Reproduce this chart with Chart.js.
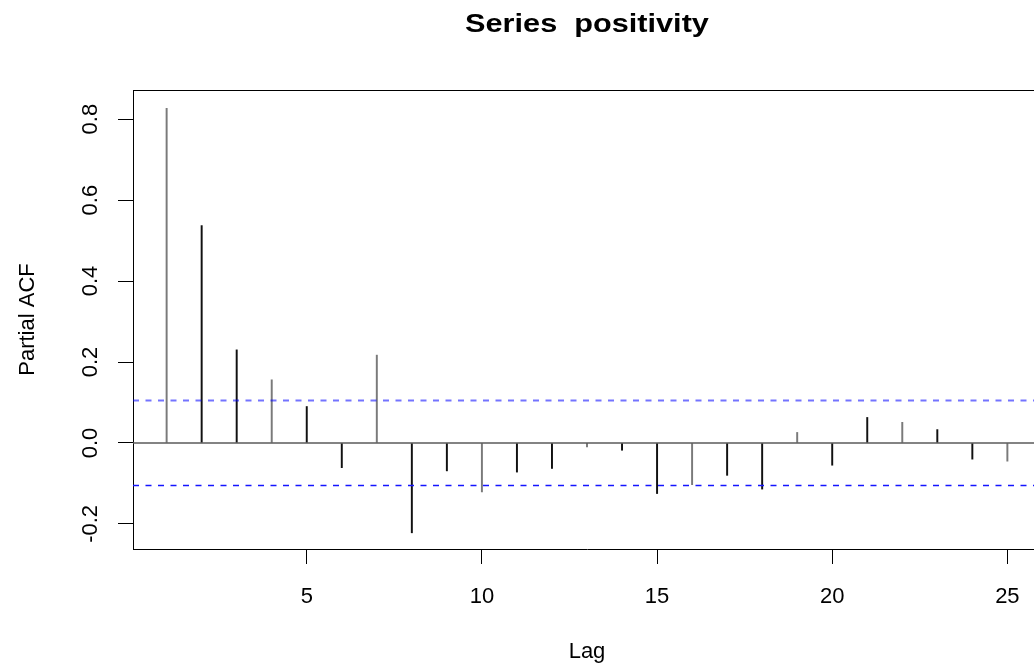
<!DOCTYPE html>
<html>
<head>
  <script src="https://cdn.jsdelivr.net/npm/chart.js"></script>
  <style>
    body { margin: 0; overflow: hidden; background: #fff; }
  </style>
</head>
<body>
  <canvas id="myChart" width="1041" height="667"></canvas>

  <script>
    // partial autocorrelation, lags 1..25
    var lags = [1, 2, 3, 4, 5, 6, 7, 8, 9, 10, 11, 12, 13, 14, 15, 16, 17, 18, 19, 20, 21, 22, 23, 24, 25];
    var pacf = [0.827, 0.537, 0.230, 0.156, 0.090, -0.061, 0.217, -0.222, -0.069, -0.121,
                -0.072, -0.063, -0.010, -0.018, -0.125, -0.103, -0.080, -0.114, 0.026, -0.055,
                0.063, 0.051, 0.033, -0.040, -0.045];
    var ciBound = 0.105;

    var xTicks = [5, 10, 15, 20, 25];
    var yTicks = [-0.2, 0.0, 0.2, 0.4, 0.6, 0.8];
    var xRange = [0.04, 25.96];
    var yRange = [-0.262, 0.872];

    var family = "'Liberation Sans', Arial, sans-serif";
    Chart.defaults.font.family = family;
    Chart.defaults.color = '#000';

    // R style extras: box top edge, rotated y labels, main title
    var rStyle = {
      id: 'rStyle',
      afterDraw: function (chart) {
        var ctx = chart.ctx, a = chart.chartArea, ys = chart.scales.y;
        ctx.save();
        ctx.strokeStyle = '#000';
        ctx.lineWidth = 1;
        ctx.beginPath();
        ctx.moveTo(a.left, Math.round(a.top) + 0.5);
        ctx.lineTo(a.right, Math.round(a.top) + 0.5);
        ctx.stroke();

        ctx.fillStyle = '#000';
        ctx.font = '22px ' + family;
        ctx.textAlign = 'center';
        ctx.textBaseline = 'alphabetic';
        ys.ticks.forEach(function (t) {
          var py = ys.getPixelForValue(t.value);
          ctx.save();
          ctx.translate(ys.right - 36, py);
          ctx.rotate(-Math.PI / 2);
          ctx.fillText(t.value.toFixed(1), 0, 0);
          ctx.restore();
        });

        ctx.font = 'bold 26px ' + family;
        ctx.translate((a.left + a.right) / 2, 32);
        ctx.scale(1.18, 1);
        ctx.fillText('Series  positivity', 0, 0);
        ctx.restore();
      }
    };

    var ctx = document.getElementById('myChart').getContext('2d');
    var myChart = new Chart(ctx, {
      type: 'bar',
      data: {
        datasets: [{
          type: 'line',
          data: [{ x: xRange[0], y: 0 }, { x: xRange[1], y: 0 }],
          borderColor: '#5a5a5a',
          borderWidth: 1.5,
          pointRadius: 0
        }, {
          type: 'line',
          data: [{ x: xRange[0], y: ciBound }, { x: xRange[1], y: ciBound }],
          borderColor: 'rgba(0,0,255,0.55)',
          borderWidth: 2,
          borderDash: [6, 6.5],
          pointRadius: 0
        }, {
          type: 'line',
          data: [{ x: xRange[0], y: -ciBound }, { x: xRange[1], y: -ciBound }],
          borderColor: '#1515ff',
          borderWidth: 1.5,
          borderDash: [6, 6.5],
          pointRadius: 0
        }, {
          type: 'bar',
          data: lags.map(function (l, i) { return { x: l, y: [0, pacf[i]] }; }),
          backgroundColor: function (c) { return c.dataIndex % 3 === 0 ? '#7a7a7a' : '#111'; },
          borderWidth: 0,
          barThickness: 1.3,
          grouped: false
        }]
      },
      options: {
        responsive: false,
        animation: false,
        layout: { padding: { top: 90, left: 0, right: 0, bottom: 0 } },
        plugins: {
          legend: { display: false },
          tooltip: { enabled: false },
          title: { display: false }
        },
        scales: {
          x: {
            type: 'linear',
            min: xRange[0],
            max: xRange[1],
            offset: false,
            afterBuildTicks: function (s) { s.ticks = xTicks.map(function (v) { return { value: v }; }); },
            afterFit: function (s) { s.height = 118; },
            ticks: { font: { size: 22 }, padding: 20, maxRotation: 0, autoSkip: false, color: '#000' },
            grid: { drawOnChartArea: false, drawTicks: true, tickLength: 15, color: '#000', offset: false },
            border: { color: '#000', width: 1 },
            title: { display: true, text: 'Lag', font: { size: 22 }, padding: { top: 0, bottom: 2 }, color: '#000' }
          },
          y: {
            type: 'linear',
            min: yRange[0],
            max: yRange[1],
            afterBuildTicks: function (s) { s.ticks = yTicks.map(function (v) { return { value: v }; }); },
            afterFit: function (s) { s.width = 133; },
            ticks: { display: false },
            grid: { drawOnChartArea: false, drawTicks: true, tickLength: 15, color: '#000' },
            border: { color: '#000', width: 1 },
            title: { display: true, text: 'Partial ACF', font: { size: 22 }, padding: { top: 15 }, color: '#000' }
          }
        }
      },
      plugins: [rStyle]
    });
  </script>
</body>
</html>
